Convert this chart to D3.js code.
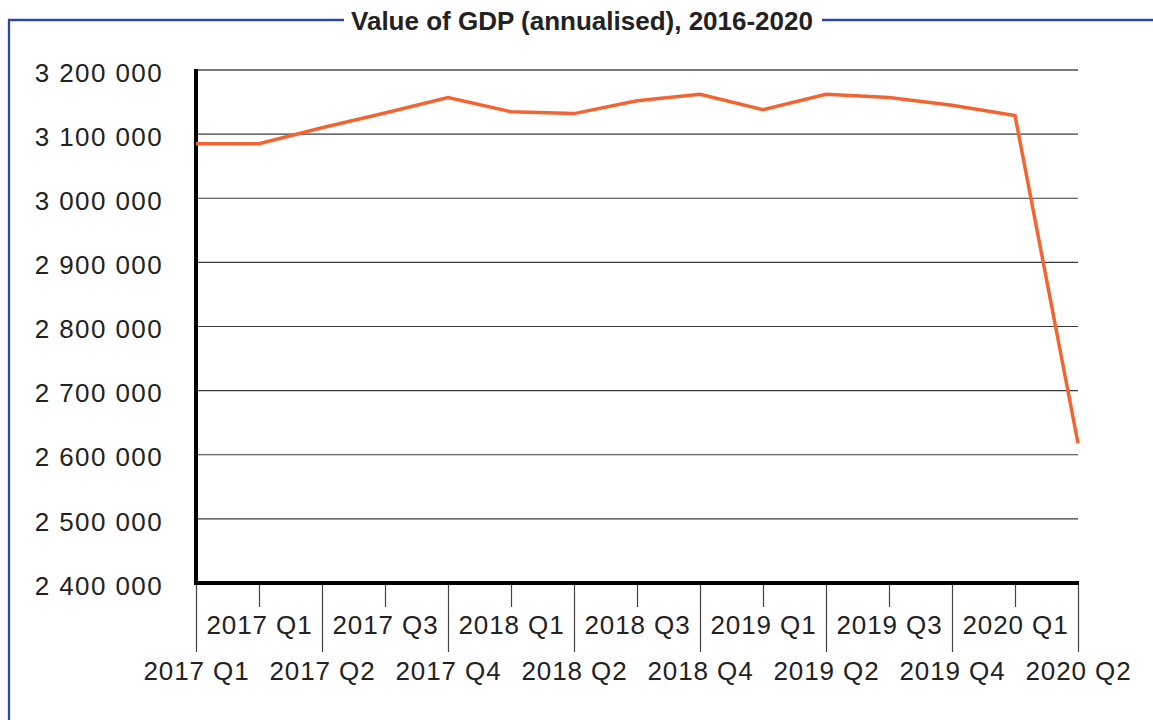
<!DOCTYPE html>
<html>
<head>
<meta charset="utf-8">
<script src="https://d3js.org/d3.v7.min.js"></script>
<style>
  body { margin: 0; background: #fff; }
  svg { display: block; font-family: "Liberation Sans", Arial, Helvetica, sans-serif; }
  .tick text { fill: #222; }
</style>
</head>
<body>
<svg width="1153" height="720"></svg>
<script>
// quarters as they appear on the axis (the first two both read "2017 Q1")
const quarters = ["2017 Q1", "2017 Q1", "2017 Q2", "2017 Q3", "2017 Q4",
                  "2018 Q1", "2018 Q2", "2018 Q3", "2018 Q4",
                  "2019 Q1", "2019 Q2", "2019 Q3", "2019 Q4",
                  "2020 Q1", "2020 Q2"];
// GDP, annualised
const gdp = [3085000, 3085000, 3110000, 3133000, 3157000,
             3135000, 3132000, 3152000, 3162000,
             3138000, 3162000, 3157000, 3145000,
             3129000, 2618000];
const yTicks = d3.range(2400000, 3200001, 100000);
const title = "Value of GDP (annualised), 2016-2020";

const svg = d3.select("svg");
const margin = {top: 70, right: 75, bottom: 137, left: 196};
const width = 1153 - margin.left - margin.right,
      height = 720 - margin.top - margin.bottom;

// frame with the title sitting in the top border
const frameColor = "#2c4a9c";
const titleText = svg.append("text")
  .attr("x", 582).attr("y", 30)
  .attr("text-anchor", "middle")
  .style("font-size", "26px").style("font-weight", "bold").style("fill", "#222")
  .text(title);
const tb = titleText.node().getBBox();
svg.append("path")
  .attr("d", `M${tb.x - 7},20 H9 V720 M${tb.x + tb.width + 9},20 H1153`)
  .attr("fill", "none").attr("stroke", frameColor).attr("stroke-width", 2.3);

const g = svg.append("g").attr("transform", `translate(${margin.left},${margin.top})`);

const x = d3.scalePoint().domain(d3.range(quarters.length)).range([0, width]);
const y = d3.scaleLinear().domain([2400000, 3200000]).range([height, 0]);

const fmt = d3.formatLocale({decimal: ".", thousands: " ", grouping: [3], currency: ["", ""]}).format(",");

// gridlines
g.append("g").selectAll("line")
  .data(yTicks.filter(d => d > 2400000))
  .join("line")
  .attr("x1", 0).attr("x2", width)
  .attr("y1", d => y(d)).attr("y2", d => y(d))
  .attr("stroke", d => d === 3200000 ? "#7a7a7a" : "#3a3a3a")
  .attr("stroke-width", d => d === 3200000 ? 2 : 1.2);

// y axis labels
const yAxis = g.append("g")
  .call(d3.axisLeft(y).tickValues(yTicks).tickFormat(fmt).tickSize(0).tickPadding(33));
yAxis.select(".domain").remove();
yAxis.selectAll("text")
  .style("font-size", "26px").style("letter-spacing", "1.4px")
  .attr("dy", "0.66em").attr("y", -6);

// x axis with alternating label rows
const xAxis = g.append("g")
  .attr("transform", `translate(0,${height})`)
  .call(d3.axisBottom(x).tickFormat(i => quarters[i]).tickSize(0));
xAxis.select(".domain").remove();
xAxis.selectAll(".tick line")
  .attr("y2", i => i % 2 === 0 ? 69 : 24)
  .attr("stroke", "#444").attr("stroke-width", 1.2);
xAxis.selectAll(".tick text")
  .style("font-size", "26px").style("letter-spacing", "0.9px")
  .attr("dy", 0)
  .attr("y", i => i % 2 === 0 ? 97 : 51);

// axis lines
g.append("line").attr("x1", 0).attr("x2", 0).attr("y1", -1).attr("y2", height + 2)
  .attr("stroke", "#000").attr("stroke-width", 4);
g.append("line").attr("x1", -2).attr("x2", width + 1).attr("y1", height).attr("y2", height)
  .attr("stroke", "#000").attr("stroke-width", 4);

// the series
g.append("path")
  .datum(gdp)
  .attr("d", d3.line().x((d, i) => x(i)).y(d => y(d)))
  .attr("fill", "none")
  .attr("stroke", "#f26533")
  .attr("stroke-width", 3.5);
</script>
</body>
</html>
